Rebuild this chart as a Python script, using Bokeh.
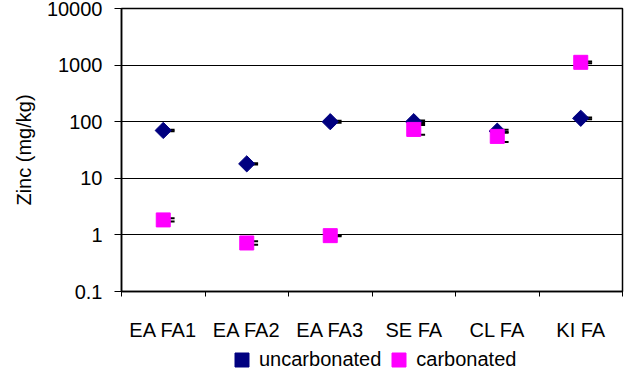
import math
from bokeh.plotting import figure
from bokeh.layouts import column
from bokeh.models import (FactorRange, Range1d, LinearAxis, FixedTicker, Legend,
                          LegendItem, ColumnDataSource, CategoricalAxis)
from bokeh.transform import dodge
from bokeh.embed import file_html
from bokeh.resources import INLINE

categories = ["EA FA1", "EA FA2", "EA FA3", "SE FA", "CL FA", "KI FA"]
uncarbonated = [70, 18, 100, 100, 68, 115]
uncarbonated_err = [2, 0.5, 4, 5, 4, 4]
carbonated = [1.84, 0.72, 0.97, 73, 55, 1120]
carbonated_err = [0.12, 0.05, 0.02, 14, 11, 40]
y_ticks = [0.1, 1, 10, 100, 1000, 10000]
y_tick_labels = ["0.1", "1", "10", "100", "1000", "10000"]
series_names = ["uncarbonated", "carbonated"]

FONT = "Liberation Sans"
FS = "20px"
U_STYLE = dict(marker="square", angle=math.pi / 4, fill_color="#000080", line_color="#000080")
C_STYLE = dict(marker="square", fill_color="#FF00FF", line_color="#FF00FF")

src = ColumnDataSource(dict(
    cat=categories,
    u=uncarbonated,
    u_hi=[v + e for v, e in zip(uncarbonated, uncarbonated_err)],
    u_lo=[v - e for v, e in zip(uncarbonated, uncarbonated_err)],
    c=carbonated,
    c_hi=[v + e for v, e in zip(carbonated, carbonated_err)],
    c_lo=[v - e for v, e in zip(carbonated, carbonated_err)],
))

p = figure(width=630, height=343, x_range=FactorRange(*categories),
           y_range=Range1d(0.1, 10000), y_axis_type="log",
           output_backend="svg", toolbar_location=None,
           x_axis_location=None, min_border_left=121, min_border_right=8,
           min_border_top=8, min_border_bottom=51)
p.background_fill_color = "white"
p.border_fill_color = "white"
p.outline_line_color = "black"
p.outline_line_width = 1.5

# y axis
ya = p.yaxis[0]
ya.ticker = FixedTicker(ticks=y_ticks, minor_ticks=[])
ya.major_label_overrides = {t: l for t, l in zip(y_ticks, y_tick_labels)}
ya.major_label_text_font = FONT
ya.major_label_text_font_size = FS
ya.major_label_text_color = "black"
ya.major_tick_out = 7
ya.major_tick_in = 0
ya.major_tick_line_color = "black"
ya.axis_line_color = "black"
ya.axis_line_width = 1.5
ya.major_label_standoff = 12
ya.axis_label = "Zinc (mg/kg)"
ya.axis_label_text_font = FONT
ya.axis_label_text_font_size = FS
ya.axis_label_text_font_style = "normal"
ya.axis_label_text_color = "black"
ya.axis_label_standoff = 9

p.ygrid.grid_line_color = "black"
p.ygrid.grid_line_width = 1.2
p.ygrid.ticker = FixedTicker(ticks=y_ticks)
p.xgrid.grid_line_color = None

# x axis: ticks on the category boundaries (synthetic coordinates 0..N)
edge_ticks = list(range(len(categories) + 1))
ea = LinearAxis(ticker=FixedTicker(ticks=edge_ticks, minor_ticks=[]))
ea.major_label_text_font_size = "1px"
ea.major_label_text_color = None
ea.major_label_standoff = 0
ea.major_tick_out = 5
ea.major_tick_in = 0
ea.major_tick_line_color = "black"
ea.axis_line_color = "black"
ea.axis_line_width = 1.5
p.add_layout(ea, "below")

ca = CategoricalAxis()
ca.axis_line_color = None
ca.major_tick_line_color = None
ca.minor_tick_line_color = None
ca.major_label_text_font = FONT
ca.major_label_text_font_size = FS
ca.major_label_text_color = "black"
ca.major_label_standoff = 16
p.add_layout(ca, "below")

# error caps
for hi, lo in (("u_hi", "u_lo"), ("c_hi", "c_lo")):
    for col in (hi, lo):
        p.scatter(x=dodge("cat", 0.1, range=p.x_range), y=col, source=src,
                  marker="dash", size=6, line_color="black", line_width=2)

p.scatter(x="cat", y="u", source=src, size=11.5, **U_STYLE)
p.scatter(x="cat", y="c", source=src, size=14, **C_STYLE)

# legend strip below the chart (its own renderers sit outside its visible range)
p2 = figure(width=630, height=29, output_backend="svg", toolbar_location=None,
            x_range=p.x_range, y_range=Range1d(1e5, 1e6), y_axis_type="log",
            x_axis_location=None, y_axis_location=None, min_border=0)
p2.outline_line_color = None
p2.grid.visible = False
p2.background_fill_color = "white"
p2.border_fill_color = "white"
lu = p2.scatter(x="cat", y="u", source=src, size=14, **U_STYLE)
lc = p2.scatter(x="cat", y="c", source=src, size=14, **C_STYLE)

legend = Legend(items=[LegendItem(label=series_names[0], renderers=[lu], index=0),
                       LegendItem(label=series_names[1], renderers=[lc], index=0)],
                orientation="horizontal", location=(103, -5))
legend.label_text_font = FONT
legend.label_text_font_size = FS
legend.label_text_color = "black"
legend.border_line_color = None
legend.background_fill_alpha = 0
legend.glyph_width = 35
legend.glyph_height = 35
legend.label_standoff = -5
legend.spacing = 0
legend.padding = 0
legend.margin = 0
p2.add_layout(legend, "center")

open("out.html", "w").write(file_html(column(p, p2, spacing=0), INLINE))
